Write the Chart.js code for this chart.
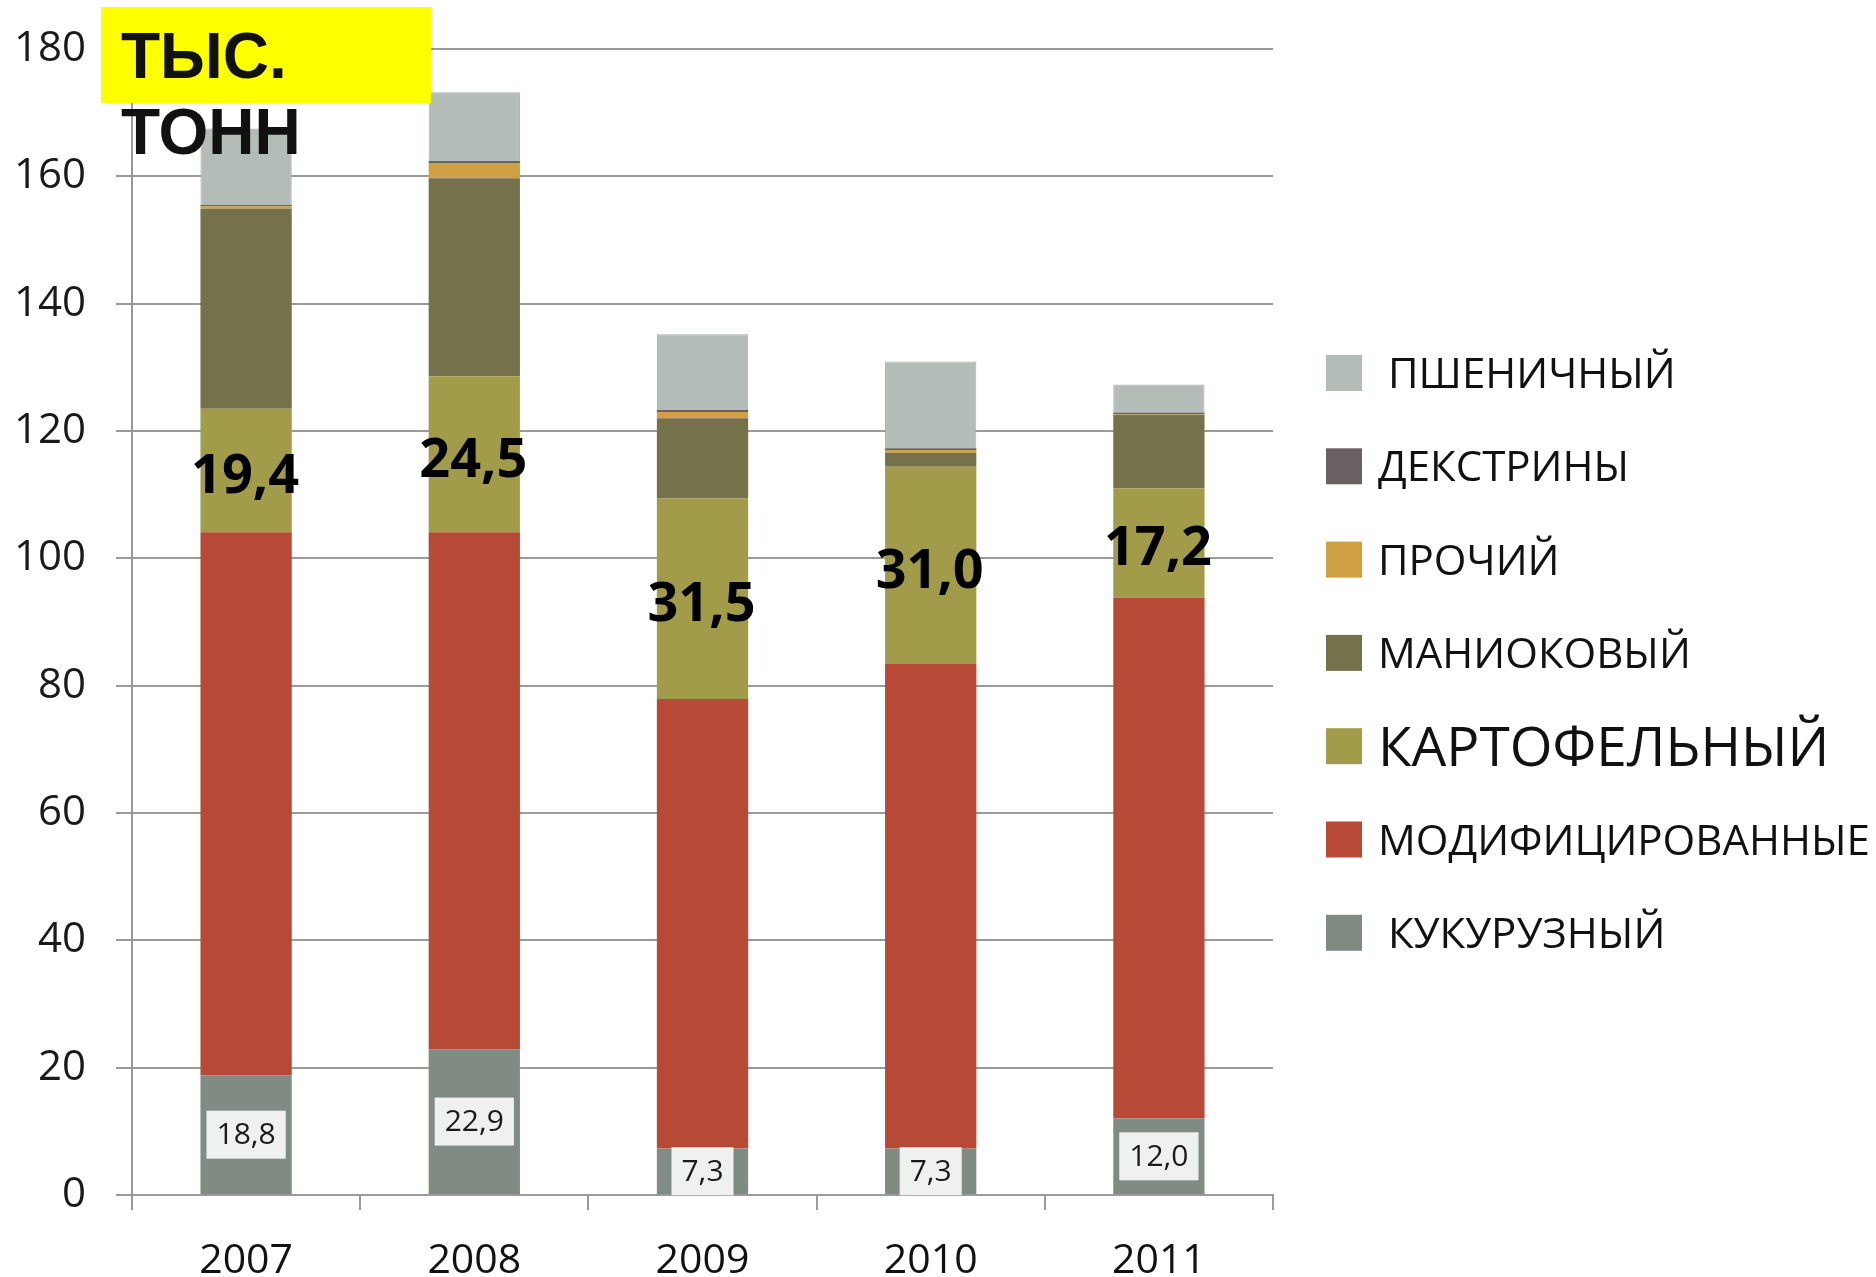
<!DOCTYPE html>
<html>
<head>
<meta charset="utf-8">
<script src="https://cdn.jsdelivr.net/npm/chart.js@4.4.1/dist/chart.umd.min.js"></script>
<style>
  html, body { margin: 0; padding: 0; background: #fff; }
  #wrap { width: 1876px; height: 1277px; position: relative; }
</style>
</head>
<body>
<div id="wrap"><canvas id="starchChart"></canvas></div>
<script>
'use strict';

// years
let years = ['2007', '2008', '2009', '2010', '2011'];

// series, bottom to top of the stack (thousand tonnes)
let corn = [18.8, 22.9, 7.3, 7.3, 12.0];
let modified = [85.3, 81.2, 70.6, 76.1, 81.8];
let potato = [19.4, 24.5, 31.5, 31.0, 17.2];
let manioc = [31.4, 31.1, 12.6, 2.2, 11.5];
let other = [0.4, 2.4, 1.0, 0.4, 0.1];
let dextrin = [0.2, 0.3, 0.3, 0.3, 0.3];
let wheat = [12.0, 10.8, 11.9, 13.6, 4.4];

// labels printed on the bars
let potatoLabels = ['19,4', '24,5', '31,5', '31,0', '17,2'];
let cornLabels = ['18,8', '22,9', '7,3', '7,3', '12,0'];

let seriesNames = ['КУКУРУЗНЫЙ', 'МОДИФИЦИРОВАННЫЕ', 'КАРТОФЕЛЬНЫЙ', 'МАНИОКОВЫЙ', 'ПРОЧИЙ', 'ДЕКСТРИНЫ', 'ПШЕНИЧНЫЙ'];
let seriesColors = ['#808b84', '#b74a37', '#a29c4a', '#75724b', '#cfa044', '#6a6163', '#b4bcb8'];

let yTicks = { min: 0, max: 180, step: 20 };

let ctx = document.getElementById('starchChart').getContext('2d');

// legend on the right, drawn top to bottom (reverse of stack)
let legendStyle = {
  x: 1326, box: 36, top: 373, gap: 93.3,
  textX: [1388, 1378, 1378, 1378, 1378, 1378, 1388],
  size: [42, 42, 42, 42, 55, 42, 42]
};

const barLabels = {
  id: 'barLabels',
  afterDatasetsDraw (chart) {
    let c = chart.ctx;
    // big bold numbers in the potato segment
    let pm = chart.getDatasetMeta(2);
    c.save();
    c.font = 'bold 54px "Open Sans"';
    c.fillStyle = '#000';
    c.textAlign = 'center';
    c.textBaseline = 'middle';
    pm.data.forEach((bar, i) => {
      let cy = (bar.y + bar.base) / 2;
      c.fillText(potatoLabels[i], bar.x - 1, cy + 7);
    });
    // boxed numbers in the corn segment
    let cm = chart.getDatasetMeta(0);
    c.font = '30px "Open Sans"';
    cm.data.forEach((bar, i) => {
      let cy = (bar.y + bar.base) / 2;
      let w = c.measureText(cornLabels[i]).width + 20;
      c.fillStyle = '#eff1ef';
      c.fillRect(bar.x - w / 2, cy - 24, w, 48);
      c.fillStyle = '#1a1a1a';
      c.fillText(cornLabels[i], bar.x, cy + 1);
    });
    c.restore();
  },
  afterDraw (chart) {
    let c = chart.ctx;
    c.save();
    // unit caption
    c.fillStyle = '#ffff00';
    c.fillRect(101, 7, 330, 96);
    c.fillStyle = '#111';
    c.font = 'bold 64px "Liberation Sans"';
    c.textAlign = 'left';
    c.textBaseline = 'alphabetic';
    c.fillText('ТЫС.', 121, 78);
    c.fillText('ТОНН', 121, 154);
    // legend
    for (let k = 0; k < seriesNames.length; k++) {
      let idx = seriesNames.length - 1 - k;
      let cy = legendStyle.top + k * legendStyle.gap;
      c.fillStyle = seriesColors[idx];
      c.fillRect(legendStyle.x, cy - legendStyle.box / 2, legendStyle.box, legendStyle.box);
      let sz = legendStyle.size[k];
      c.fillStyle = '#111';
      c.font = sz + 'px "Open Sans"';
      c.fillText(seriesNames[idx], legendStyle.textX[k], cy + sz * 0.36);
    }
    c.restore();
  }
};

let seriesData = [corn, modified, potato, manioc, other, dextrin, wheat];

let chart = new Chart(ctx, {
  type: 'bar',
  data: {
    labels: years,
    datasets: seriesData.map((d, i) => ({
      label: seriesNames[i],
      data: d,
      backgroundColor: seriesColors[i],
      borderColor: i === 6 ? '#a8aaa8' : seriesColors[i],
      borderWidth: i === 6 ? 1 : 0,
      borderSkipped: i === 6 ? 'bottom' : true,
      categoryPercentage: 1,
      barPercentage: 0.4
    }))
  },
  options: {
    responsive: true,
    maintainAspectRatio: false,
    animation: false,
    layout: { padding: { top: 49, right: 603, bottom: 0, left: 0 } },
    plugins: {
      legend: { display: false },
      tooltip: { enabled: false }
    },
    scales: {
      x: {
        stacked: true,
        grid: { offset: true, drawOnChartArea: false, drawTicks: true, tickLength: 15, color: '#9a9a9a', lineWidth: 2 },
        border: { color: '#9a9a9a', width: 2 },
        ticks: { color: '#111', padding: 27, font: { family: 'Open Sans', size: 41 } },
        afterFit: s => { s.height = 82; s.paddingLeft = 0; s.paddingRight = 0; }
      },
      y: {
        stacked: true,
        min: yTicks.min,
        max: yTicks.max,
        grid: { color: '#9a9a9a', lineWidth: 2, tickLength: 16 },
        border: { color: '#9a9a9a', width: 2 },
        ticks: { stepSize: yTicks.step, color: '#1a1a1a', padding: 30, font: { family: 'Open Sans', size: 42 } },
        afterFit: s => { s.width = 132; s.paddingTop = 0; s.paddingBottom = 0; }
      }
    }
  },
  plugins: [barLabels]
});
</script>
</body>
</html>
